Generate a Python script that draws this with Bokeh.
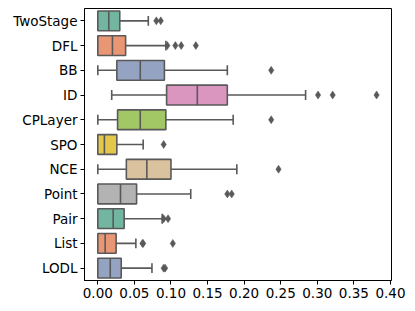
import colorsys
from bokeh.plotting import figure
from bokeh.models import Range1d, FixedTicker, NumeralTickFormatter, ColumnDataSource
from bokeh.embed import file_html
from bokeh.resources import INLINE

categories = ["TwoStage", "DFL", "BB", "ID", "CPLayer", "SPO", "NCE", "Point", "Pair", "List", "LODL"]
q1 = [0.000, 0.000, 0.026, 0.094, 0.027, 0.000, 0.039, 0.000, 0.000, 0.000, 0.000]
median = [0.015, 0.020, 0.058, 0.136, 0.058, 0.009, 0.067, 0.031, 0.021, 0.010, 0.017]
q3 = [0.030, 0.038, 0.091, 0.177, 0.093, 0.026, 0.100, 0.053, 0.036, 0.025, 0.032]
whisker_lo = [0.000, 0.000, 0.000, 0.019, 0.000, 0.000, 0.000, 0.000, 0.000, 0.000, 0.000]
whisker_hi = [0.069, 0.093, 0.177, 0.284, 0.185, 0.062, 0.190, 0.127, 0.088, 0.052, 0.074]
outliers = [
    [0.080, 0.086],
    [0.095, 0.106, 0.114, 0.134],
    [0.237],
    [0.301, 0.321, 0.381],
    [0.237],
    [0.090],
    [0.247],
    [0.177, 0.183],
    [0.090, 0.096],
    [0.061, 0.062, 0.1025],
    [0.090, 0.092],
]
x_ticks = [0.0, 0.05, 0.10, 0.15, 0.20, 0.25, 0.30, 0.35, 0.40]

set2 = ["#66c2a5", "#fc8d62", "#8da0cb", "#e78ac3", "#a6d854", "#ffd92f", "#e5c494", "#b3b3b3"]


def desat(hx, prop=0.75):
    r, g, b = (int(hx[i:i + 2], 16) / 255 for i in (1, 3, 5))
    h, l, s = colorsys.rgb_to_hls(r, g, b)
    r, g, b = colorsys.hls_to_rgb(h, l, s * prop)
    return "#%02x%02x%02x" % tuple(int(round(c * 255)) for c in (r, g, b))


n = len(categories)
ypos = list(range(n))
colors = [desat(set2[i % len(set2)]) for i in range(n)]
gray = "#595959"

p = figure(width=406, height=302, output_backend="svg", toolbar_location=None,
           x_range=Range1d(-0.0182, 0.4014), y_range=Range1d(n - 0.5, -0.5),
           min_border_left=84, min_border_right=15, min_border_top=8, min_border_bottom=22)
p.xgrid.visible = False
p.ygrid.visible = False
p.outline_line_color = "black"
p.outline_line_width = 1
p.background_fill_color = "white"
p.border_fill_color = "white"

src = ColumnDataSource(dict(y=ypos, q1=q1, med=median, q3=q3, lo=whisker_lo, hi=whisker_hi,
                            color=colors,
                            ylo=[y - 0.2 for y in ypos], yhi=[y + 0.2 for y in ypos],
                            mlo=[y - 0.4 for y in ypos], mhi=[y + 0.4 for y in ypos]))

# whiskers
p.segment(x0="lo", y0="y", x1="q1", y1="y", source=src, line_color=gray, line_width=1.6)
p.segment(x0="q3", y0="y", x1="hi", y1="y", source=src, line_color=gray, line_width=1.6)
# caps
p.segment(x0="lo", y0="ylo", x1="lo", y1="yhi", source=src, line_color=gray, line_width=1.6)
p.segment(x0="hi", y0="ylo", x1="hi", y1="yhi", source=src, line_color=gray, line_width=1.6)
# boxes
p.hbar(y="y", left="q1", right="q3", height=0.8, source=src, fill_color="color",
       line_color=gray, line_width=1.6)
# medians
p.segment(x0="med", y0="mlo", x1="med", y1="mhi", source=src, line_color=gray, line_width=1.6)

# outliers
ox, oy = [], []
for i, vals in enumerate(outliers):
    for v in vals:
        ox.append(v)
        oy.append(i)
p.scatter(ox, oy, marker="diamond", size=8, fill_color=gray, line_color=gray, line_width=0.5)

font = "DejaVu Sans"
p.xaxis.ticker = FixedTicker(ticks=x_ticks)
p.xaxis.formatter = NumeralTickFormatter(format="0.00")
p.yaxis.ticker = FixedTicker(ticks=ypos)
p.yaxis.major_label_overrides = {i: c for i, c in enumerate(categories)}
for ax in (p.xaxis, p.yaxis):
    ax.major_label_text_font = font
    ax.major_label_text_font_size = "13.5px"
    ax.major_label_text_color = "black"
    ax.major_tick_out = 4
    ax.major_tick_in = 0
    ax.minor_tick_out = 0
    ax.minor_tick_in = 0
    ax.major_tick_line_color = "black"
    ax.axis_line_color = "black"
    ax.major_label_standoff = 3

open("out.html", "w").write(file_html(p, INLINE))
